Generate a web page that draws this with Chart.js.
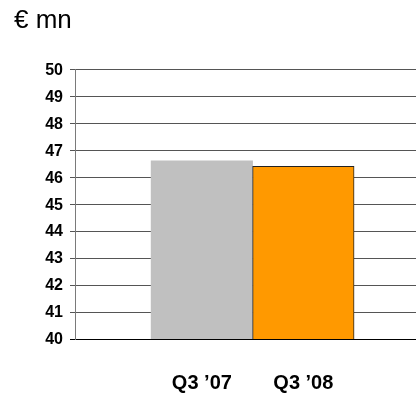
<!DOCTYPE html>
<html>
<head>
<meta charset="utf-8">
<script src="https://cdn.jsdelivr.net/npm/chart.js@4"></script>
<style>
  html, body { margin: 0; padding: 0; background: #fff; overflow: hidden; }
  #wrap { position: relative; width: 416px; height: 394px; }
</style>
</head>
<body>
<div id="wrap"><canvas id="c" width="416" height="394"></canvas></div>
<script>
// Quarterly figure, € mn
const categories = ['Q3 ’07', 'Q3 ’08'];
const values = [46.6, 46.4];
const barColors = ['#C0C0C0', '#FF9900'];
const barBorderWidths = [0, 1];
const yMin = 40;
const yMax = 50;
const yStep = 1;

const tickFontY = { family: "'Liberation Sans', Arial, sans-serif", size: 16, weight: 'bold' };
const tickFontX = { family: "'Liberation Sans', Arial, sans-serif", size: 20, weight: 'bold' };

new Chart(document.getElementById('c'), {
  type: 'bar',
  data: {
    datasets: [{
      data: values.map((v, i) => ({ x: i + 1, y: v })),
      backgroundColor: barColors,
      borderColor: '#222222',
      borderWidth: barBorderWidths,
      borderSkipped: false,
      barPercentage: 1,
      categoryPercentage: 1
    }]
  },
  options: {
    responsive: false,
    animation: false,
    layout: { padding: { left: 14, right: 0, top: 0, bottom: 0 } },
    plugins: {
      legend: { display: false },
      tooltip: { enabled: false },
      title: {
        display: true,
        text: '€ mn',
        align: 'start',
        color: '#000',
        font: { family: "'Liberation Sans', Arial, sans-serif", size: 26, weight: 'normal' },
        padding: { top: 5, bottom: 33 }
      }
    },
    scales: {
      x: {
        type: 'linear',
        offset: false,
        min: -0.25,
        max: 3.11,
        afterBuildTicks: s => { s.ticks = categories.map((_, i) => ({ value: i + 1 })); },
        afterFit: s => { s.height = 55; },
        grid: { display: false, drawTicks: false, offset: false },
        border: { display: false },
        ticks: {
          color: '#000',
          font: tickFontX,
          padding: 32,
          maxRotation: 0,
          autoSkip: false,
          callback: v => categories[Math.round(v) - 1] ?? ''
        }
      },
      y: {
        min: yMin,
        max: yMax,
        afterFit: s => { s.width = 61; },
        grid: {
          color: ctx => (ctx.tick && ctx.tick.value === yMin) ? '#000' : '#555555',
          tickColor: ctx => (ctx.tick && ctx.tick.value === yMin) ? '#000' : '#555555',
          tickLength: 5,
          lineWidth: 1
        },
        border: { color: '#7a7a7a', width: 1 },
        ticks: {
          stepSize: yStep,
          color: '#000',
          font: tickFontY,
          padding: 7,
          labelOffset: 1
        }
      }
    }
  }
});
</script>
</body>
</html>
